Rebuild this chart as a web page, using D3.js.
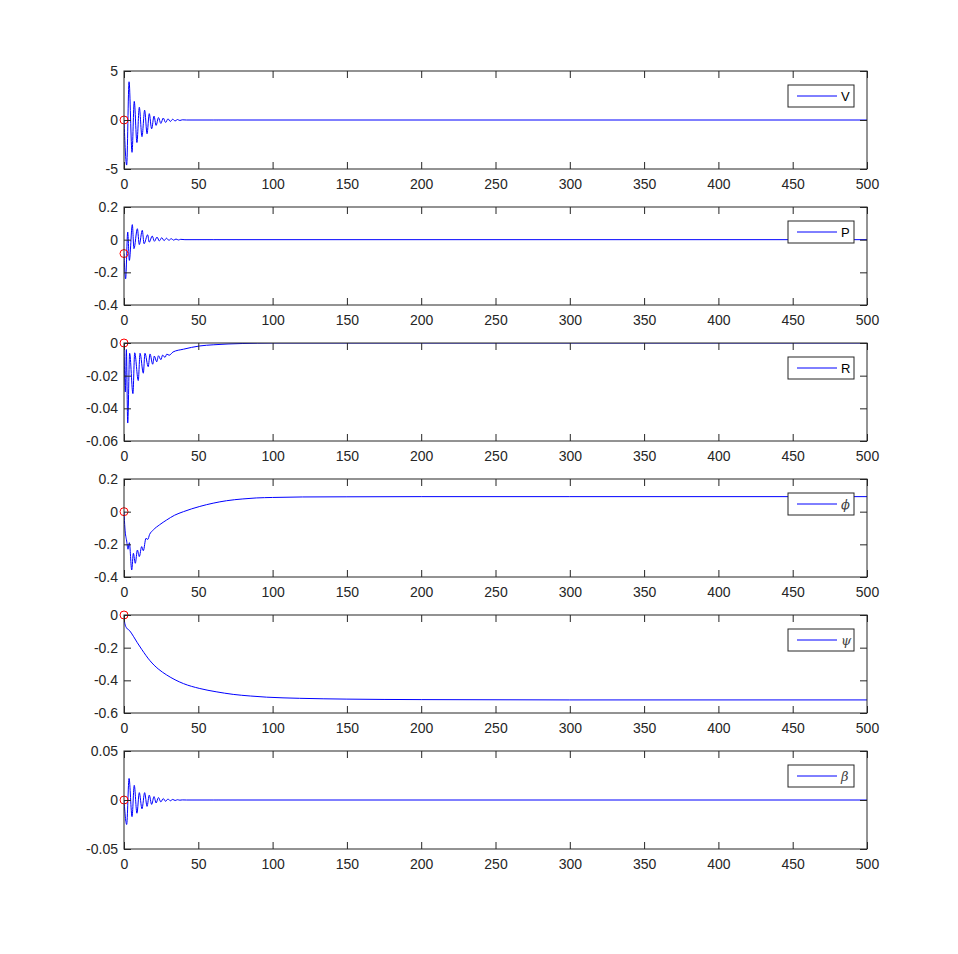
<!DOCTYPE html>
<html>
<head>
<meta charset="utf-8">
<script src="https://cdn.jsdelivr.net/npm/d3@7"></script>
<style>
  body { margin: 0; background: #fff; }
  text { font-family: "Liberation Sans", Arial, sans-serif; }
</style>
</head>
<body>
<div id="chart"></div>
<script>
// time stamps and values
const xTicks = [0, 50, 100, 150, 200, 250, 300, 350, 400, 450, 500];

const tOsc = [0, 1.8, 3.4, 5.4, 6.9, 8.7, 10.3, 12.1, 13.9, 15.5, 17.0, 18.6, 20.2, 21.6, 23.2, 24.8,
  26.4, 28.0, 29.6, 31.2, 32.8, 34.4, 36.0, 37.6, 39.2, 42, 60, 500];
const vVals = [0, -4.6, 3.9, -3.3, 1.9, -2.3, 1.3, -1.7, 1.0, -1.4, 0.65, -0.9, 0.4, -0.55, 0.25, -0.35,
  0.2, -0.25, 0.12, -0.15, 0.08, -0.1, 0.05, -0.05, 0.02, 0, 0, 0];
const betaVals = [0, -0.025, 0.022, -0.017, 0.015, -0.0135, 0.0075, -0.009, 0.0075, -0.0065, 0.005, -0.0045,
  0.0035, -0.003, 0.0025, -0.002, 0.0015, -0.0013, 0.001, -0.0008, 0.0006, -0.0005, 0.0003, -0.0002, 0.0001, 0, 0, 0];

const tP = [0, 1.1, 2.5, 3.6, 5.6, 6.7, 9.0, 10.3, 12.3, 13.5, 15.9, 17.0, 19.0, 20.5, 22.2, 23.8, 25.4,
  27.0, 28.6, 30.2, 31.8, 33.4, 35.0, 36.6, 38.2, 41, 60, 500];
const pVals = [-0.085, -0.24, 0.047, -0.127, 0.092, -0.055, 0.067, -0.03, 0.057, -0.025, 0.03, -0.015, 0.022,
  -0.01, 0.016, -0.008, 0.012, -0.006, 0.009, -0.004, 0.006, -0.003, 0.004, -0.002, 0.002, 0, 0, 0];

const tR = [0, 0.9, 1.6, 2.5, 3.8, 6.0, 7.2, 9.6, 10.8, 13.0, 14.1, 16.3, 17.5, 19.3, 20.4, 22.0, 23.2, 24.8,
  26.0, 27.6, 28.8, 30.4, 33, 40, 51, 60, 70, 80, 90, 100, 500];
const rVals = [0, -0.03, -0.004, -0.049, -0.0063, -0.031, -0.006, -0.023, -0.0063, -0.0185, -0.0063, -0.0145,
  -0.0067, -0.013, -0.008, -0.0115, -0.0078, -0.0102, -0.0074, -0.0088, -0.0068, -0.0075, -0.0055, -0.0038,
  -0.0018, -0.0011, -0.0006, -0.0003, -0.0001, 0, 0];

const tPhi = [0, 0.6, 1.8, 2.7, 3.6, 5.2, 6.3, 7.6, 9.0, 10.3, 11.9, 13.0, 14.8, 16.0, 17.2, 19.7, 24, 28.7,
  34, 40, 51, 60, 69, 80, 89, 100, 120, 150, 200, 300, 500];
const phiVals = [0, -0.1, -0.18, -0.23, -0.19, -0.357, -0.255, -0.316, -0.235, -0.275, -0.214, -0.239, -0.163,
  -0.17, -0.14, -0.112, -0.08, -0.051, -0.022, 0, 0.032, 0.052, 0.067, 0.078, 0.084, 0.087, 0.09, 0.091,
  0.092, 0.092, 0.092];

const tPsi = [0, 0.5, 1.8, 3.6, 6.3, 9, 11.9, 17.5, 23, 28.7, 40, 51, 62, 73.5, 85, 96, 118, 150, 200, 300, 500];
const psiVals = [0, -0.05, -0.08, -0.094, -0.13, -0.17, -0.21, -0.28, -0.33, -0.367, -0.42, -0.45, -0.47,
  -0.486, -0.496, -0.503, -0.51, -0.515, -0.518, -0.52, -0.52];

const panels = [
  { t: tOsc, v: vVals, label: "V", greek: false, domain: [-5, 5], ticks: [-5, 0, 5] },
  { t: tP, v: pVals, label: "P", greek: false, domain: [-0.4, 0.2], ticks: [-0.4, -0.2, 0, 0.2] },
  { t: tR, v: rVals, label: "R", greek: false, domain: [-0.06, 0], ticks: [-0.06, -0.04, -0.02, 0] },
  { t: tPhi, v: phiVals, label: "\u03D5", greek: true, domain: [-0.4, 0.2], ticks: [-0.4, -0.2, 0, 0.2] },
  { t: tPsi, v: psiVals, label: "\u03C8", greek: true, domain: [-0.6, 0], ticks: [-0.6, -0.4, -0.2, 0] },
  { t: tOsc, v: betaVals, label: "\u03B2", greek: true, domain: [-0.05, 0.05], ticks: [-0.05, 0, 0.05] }
];

const W = 958, H = 954;
const left = 124, right = 867, ph = 98;
const tops = [71, 207, 343, 479, 615, 751];
const tickLen = 7;
const axisCol = "#262626";

const svg = d3.select("#chart").append("svg")
  .attr("width", W)
  .attr("height", H);

const x = d3.scaleLinear().domain([0, 500]).range([left, right]);

panels.forEach((p, i) => {
  const top = tops[i], bottom = top + ph;
  const y = d3.scaleLinear().domain(p.domain).range([bottom, top]);
  const g = svg.append("g");

  g.append("clipPath").attr("id", "clip" + i)
    .append("rect")
    .attr("x", left).attr("y", top)
    .attr("width", right - left).attr("height", ph);

  const data = p.t.map((t, k) => ({ t: t, v: p.v[k] }));

  const line = d3.line()
    .x(d => x(d.t))
    .y(d => y(d.v))
    .curve(d3.curveMonotoneX);

  g.append("path")
    .datum(data)
    .attr("clip-path", "url(#clip" + i + ")")
    .attr("d", line)
    .style("fill", "none")
    .style("stroke", "#0000ff")
    .style("stroke-width", 1);

  // start marker
  g.append("circle")
    .attr("cx", x(data[0].t))
    .attr("cy", y(data[0].v))
    .attr("r", 4)
    .style("fill", "none")
    .style("stroke", "#ff0000")
    .style("stroke-width", 1);

  // axes, ticks inside on all four sides
  const xb = d3.axisBottom(x).tickValues(xTicks).tickSize(-tickLen).tickPadding(10);
  const xt = d3.axisTop(x).tickValues(xTicks).tickSize(-tickLen).tickFormat("");
  const yl = d3.axisLeft(y).tickValues(p.ticks).tickSize(-tickLen).tickPadding(6).tickFormat(d => d);
  const yr = d3.axisRight(y).tickValues(p.ticks).tickSize(-tickLen).tickFormat("");

  [[xb, "translate(0," + bottom + ")"], [xt, "translate(0," + top + ")"],
   [yl, "translate(" + left + ",0)"], [yr, "translate(" + right + ",0)"]].forEach(a => {
    const ax = g.append("g").attr("transform", a[1]).call(a[0]);
    ax.select(".domain").remove();
    ax.selectAll("line").style("stroke", axisCol);
    ax.selectAll("text")
      .style("fill", axisCol)
      .style("font-size", "14px")
      .style("font-family", "'Liberation Sans', Arial, sans-serif");
  });

  g.append("rect")
    .attr("x", left).attr("y", top)
    .attr("width", right - left).attr("height", ph)
    .style("fill", "none")
    .style("stroke", axisCol)
    .style("stroke-width", 1);

  // legend
  const lx = 788, ly = top + 14;
  g.append("rect")
    .attr("x", lx).attr("y", ly)
    .attr("width", 66).attr("height", 22)
    .style("fill", "#fff")
    .style("stroke", axisCol)
    .style("stroke-width", 1);
  g.append("line")
    .attr("x1", lx + 9).attr("x2", lx + 49)
    .attr("y1", ly + 11).attr("y2", ly + 11)
    .style("stroke", "#0000ff")
    .style("stroke-width", 1);
  g.append("text")
    .attr("x", lx + 53).attr("y", ly + 11)
    .attr("dy", "0.35em")
    .style("font-size", "13px")
    .style("font-family", p.greek ? "'DejaVu Serif', serif" : "'Liberation Sans', Arial, sans-serif")
    .style("font-style", p.greek ? "italic" : "normal")
    .style("fill", p.greek ? "#444" : "#000")
    .text(p.label);
});
</script>
</body>
</html>
